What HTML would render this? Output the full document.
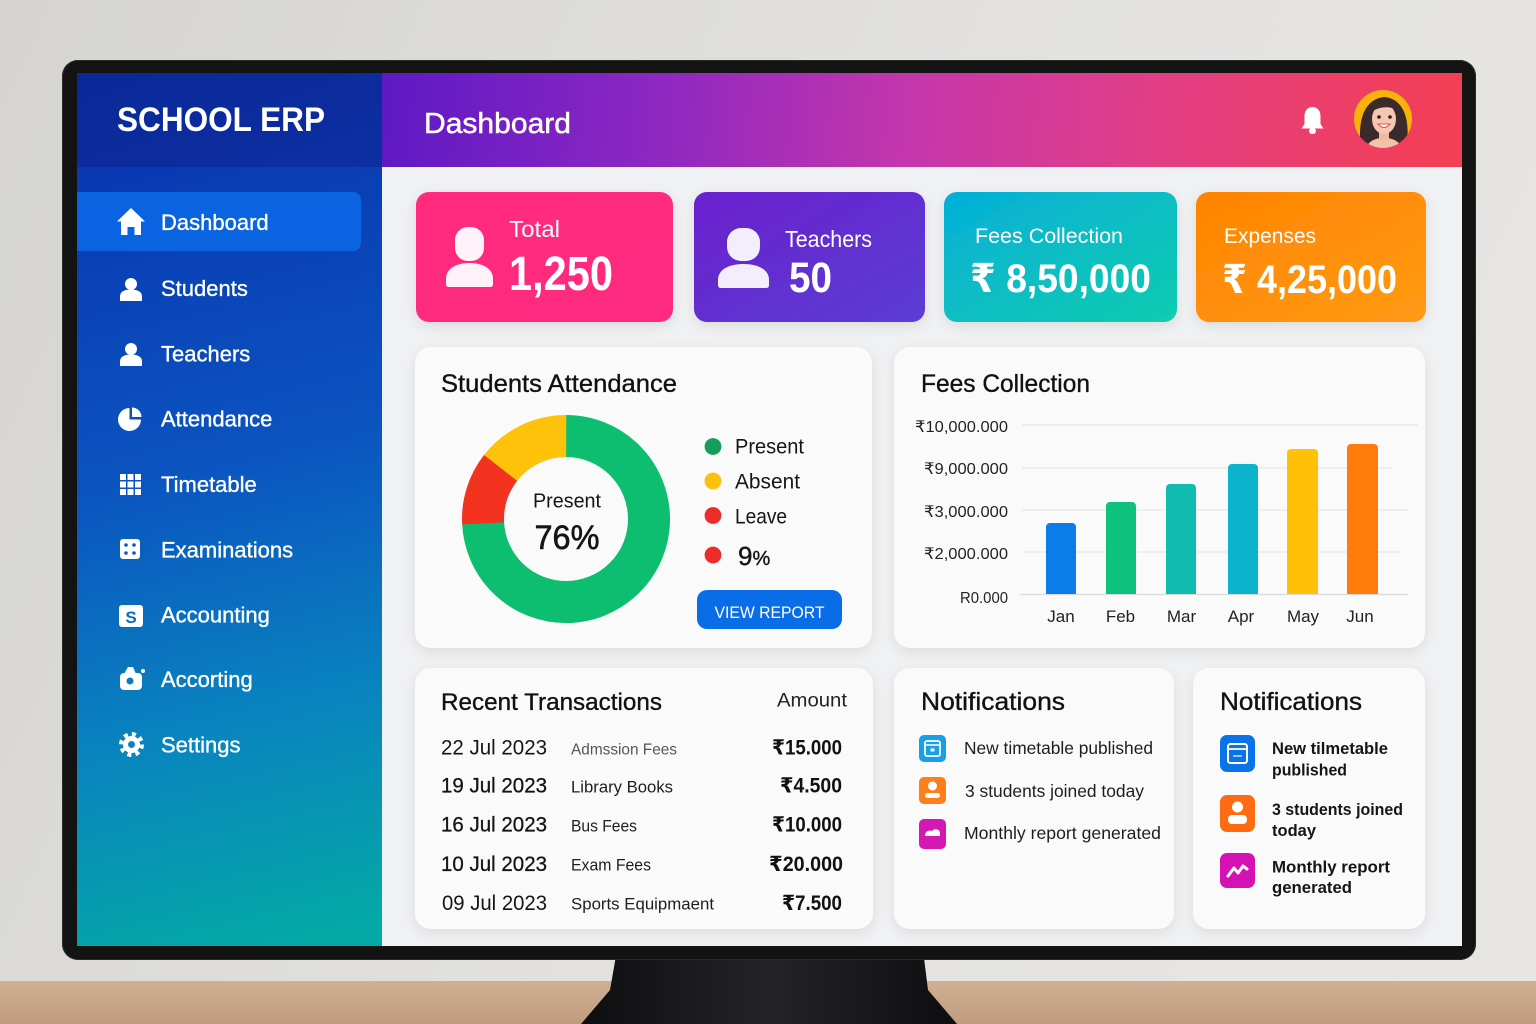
<!DOCTYPE html>
<html><head><meta charset="utf-8"><style>
html,body{margin:0;padding:0;width:1536px;height:1024px;overflow:hidden;background:#dcdbd8}
svg{display:block}
text{font-family:"Liberation Sans","DejaVu Sans",sans-serif}
</style></head><body>
<svg width="1536" height="1024" viewBox="0 0 1536 1024" xmlns="http://www.w3.org/2000/svg">
<defs>
 <linearGradient id="wall" x1="0" y1="0" x2="1" y2="0.3">
  <stop offset="0" stop-color="#d5d4d0"/><stop offset="0.6" stop-color="#e2e1de"/><stop offset="1" stop-color="#e6e5e2"/>
 </linearGradient>
 <linearGradient id="desk" x1="0" y1="0" x2="0" y2="1">
  <stop offset="0" stop-color="#d0b094"/><stop offset="1" stop-color="#c09c7e"/>
 </linearGradient>
 <linearGradient id="stand" x1="0" y1="0" x2="1" y2="0">
  <stop offset="0" stop-color="#0e0e10"/><stop offset="0.5" stop-color="#242427"/><stop offset="1" stop-color="#0e0e10"/>
 </linearGradient>
 <linearGradient id="side" gradientUnits="userSpaceOnUse" x1="77" y1="167" x2="260" y2="946">
  <stop offset="0" stop-color="#0a38b2"/><stop offset="0.4" stop-color="#0b54c0"/><stop offset="0.72" stop-color="#0984bf"/><stop offset="1" stop-color="#04a8a6"/>
 </linearGradient>
 <linearGradient id="sidehdr" x1="0" y1="0" x2="1" y2="1">
  <stop offset="0" stop-color="#0a2898"/><stop offset="1" stop-color="#0d2fa2"/>
 </linearGradient>
 <linearGradient id="hdr" gradientUnits="userSpaceOnUse" x1="382" y1="73" x2="1462" y2="167">
  <stop offset="0" stop-color="#5e19c4"/><stop offset="0.25" stop-color="#8c27c2"/><stop offset="0.5" stop-color="#c737aa"/><stop offset="0.72" stop-color="#e23e84"/><stop offset="1" stop-color="#f43e52"/>
 </linearGradient>
 <linearGradient id="c1" x1="0" y1="0" x2="1" y2="1"><stop offset="0" stop-color="#ff2a7c"/><stop offset="1" stop-color="#fe2b80"/></linearGradient>
 <linearGradient id="c2" x1="0" y1="0" x2="1" y2="1"><stop offset="0" stop-color="#6a20ce"/><stop offset="1" stop-color="#5b3dd4"/></linearGradient>
 <linearGradient id="c3" x1="0" y1="0" x2="1" y2="1"><stop offset="0" stop-color="#04afd8"/><stop offset="1" stop-color="#12ccaf"/></linearGradient>
 <linearGradient id="c4" x1="0" y1="0" x2="1" y2="1"><stop offset="0" stop-color="#ff8400"/><stop offset="1" stop-color="#ff9a14"/></linearGradient>
 <filter id="sh" x="-10%" y="-10%" width="120%" height="130%"><feDropShadow dx="0" dy="4" stdDeviation="6" flood-color="#000" flood-opacity="0.09"/></filter>
 <clipPath id="av"><circle cx="1383" cy="119" r="29"/></clipPath>
</defs>

<!-- wall / desk / stand -->
<rect x="0" y="0" width="1536" height="1024" fill="url(#wall)"/>
<rect x="0" y="981" width="1536" height="43" fill="url(#desk)"/>
<polygon points="617,950 923,950 928,990 957,1024 581,1024 610,990" fill="url(#stand)"/>

<!-- bezel -->
<rect x="62" y="60" width="1414" height="900" rx="16" fill="#131313"/>
<rect x="62.5" y="60.5" width="1413" height="899" rx="16" fill="none" stroke="#2b2b2b" stroke-width="1"/>

<!-- screen -->
<rect x="77" y="73" width="1385" height="873" fill="#f0f1f3"/>
<rect x="77" y="167" width="305" height="779" fill="url(#side)"/>
<rect x="77" y="73" width="305" height="94" fill="url(#sidehdr)"/>
<rect x="382" y="73" width="1080" height="94" fill="url(#hdr)"/>

<!-- sidebar -->
<text x="117" y="131" font-size="34" font-weight="bold" fill="#fff" textLength="208" lengthAdjust="spacingAndGlyphs">SCHOOL ERP</text>
<path d="M77,192 H352 Q361,192 361,201 V242 Q361,251 352,251 H77 Z" fill="#0a64e2"/>
<g fill="#fff">
 <polygon points="131,208 145,221.5 141,221.5 141,235 134.5,235 134.5,227 127.5,227 127.5,235 121,235 121,221.5 117,221.5"/>
 <circle cx="131" cy="284" r="6"/>
 <path d="M120,301 V296.5 C120,291.5 125,289.5 131,289.5 C137,289.5 142,291.5 142,296.5 V301 Z"/>
 <circle cx="131" cy="349" r="6"/>
 <path d="M120,366 V361.5 C120,356.5 125,354.5 131,354.5 C137,354.5 142,356.5 142,361.5 V366 Z"/>
 <path d="M129.5,419.5 L129.5,408 A11.5,11.5 0 1,0 141,419.5 Z"/>
 <path d="M132,417 L132,407.5 A9.5,9.5 0 0,1 141.5,417 Z"/>
 <rect x="120" y="474" width="6" height="6"/><rect x="127.5" y="474" width="6" height="6"/><rect x="135" y="474" width="6" height="6"/>
 <rect x="120" y="481.5" width="6" height="6"/><rect x="127.5" y="481.5" width="6" height="6"/><rect x="135" y="481.5" width="6" height="6"/>
 <rect x="120" y="489" width="6" height="6"/><rect x="127.5" y="489" width="6" height="6"/><rect x="135" y="489" width="6" height="6"/>
 <rect x="120" y="539" width="20" height="20" rx="3"/>
 <rect x="119" y="605" width="24" height="22" rx="3"/>
 <rect x="120" y="673" width="22" height="17" rx="4"/>
 <path d="M124,674 L128,667 L133,667 L136,674 Z"/>
 <circle cx="143" cy="671" r="2"/>
 <circle cx="131.5" cy="744.5" r="8.5"/>
 <circle cx="131.5" cy="744.5" r="10.5" fill="none" stroke="#fff" stroke-width="4" stroke-dasharray="4.1 4.15"/>
</g>
<g fill="#0b57c0">
 <circle cx="126" cy="545" r="1.8"/><circle cx="134" cy="545" r="1.8"/><circle cx="126" cy="553" r="1.8"/><circle cx="134" cy="553" r="1.8"/>
</g>
<text x="131" y="623" font-size="17" font-weight="bold" fill="#0a6bc0" text-anchor="middle">S</text>
<circle cx="130" cy="681" r="3.5" fill="#0a7cbf"/>
<circle cx="131.5" cy="744.5" r="3.5" fill="#0a86bd"/>
<g font-size="22" fill="#fff" stroke="#fff" stroke-width="0.35">
 <text x="161" y="230">Dashboard</text>
 <text x="161" y="296">Students</text>
 <text x="161" y="361.5">Teachers</text>
 <text x="161" y="426.5">Attendance</text>
 <text x="161" y="492">Timetable</text>
 <text x="161" y="557.5">Examinations</text>
 <text x="161" y="622.5">Accounting</text>
 <text x="161" y="687">Accorting</text>
 <text x="161" y="752.5">Settings</text>
</g>

<!-- header -->
<text x="424" y="133" font-size="29" fill="#fff" stroke="#fff" stroke-width="0.5" textLength="147" lengthAdjust="spacingAndGlyphs">Dashboard</text>
<path d="M1312.5,107 C1307.5,107 1304.5,111 1304.5,116 V124 L1301.5,128.5 H1323.5 L1320.5,124 V116 C1320.5,111 1317.5,107 1312.5,107 Z" fill="#fff"/>
<rect x="1309" y="128" width="7" height="6" rx="3" fill="#fff"/>
<circle cx="1383" cy="119" r="29" fill="#f7b30c"/>
<g clip-path="url(#av)">
 <path d="M1361,150 C1358,128 1360,100 1384,97 C1408,99 1410,128 1406,150 Z" fill="#3b2a2b"/>
 <path d="M1364,152 C1368,140 1376,138 1384,138 C1392,138 1400,140 1404,152 Z" fill="#f4c2a8"/>
 <rect x="1379" y="128" width="10" height="12" fill="#f0b99e"/>
 <ellipse cx="1384" cy="119" rx="12" ry="15" fill="#f6c7b0"/>
 <path d="M1371,112 C1374,102 1392,99 1397,110 C1390,106 1380,106 1371,112 Z" fill="#3b2a2b"/>
 <circle cx="1379" cy="117" r="1.8" fill="#2a1d1d"/><circle cx="1390" cy="117" r="1.8" fill="#2a1d1d"/>
 <path d="M1378,124 Q1384,131 1390,124 Z" fill="#fff" stroke="#d8534e" stroke-width="1"/>
</g>

<!-- stat cards -->
<rect x="416" y="192" width="257" height="130" rx="13" fill="url(#c1)" filter="url(#sh)"/>
<rect x="694" y="192" width="231" height="130" rx="13" fill="url(#c2)" filter="url(#sh)"/>
<rect x="944" y="192" width="233" height="130" rx="13" fill="url(#c3)" filter="url(#sh)"/>
<rect x="1196" y="192" width="230" height="130" rx="13" fill="url(#c4)" filter="url(#sh)"/>
<g fill="#fcf2f8">
 <rect x="455" y="227" width="29" height="34" rx="13"/>
 <path d="M446,284 V279 C446,268 457,263 469.5,263 C482,263 493,268 493,279 V284 Q493,287 490,287 H449 Q446,287 446,284 Z"/>
</g>
<g fill="#f3eefc">
 <rect x="727" y="228" width="33" height="33" rx="14"/>
 <path d="M718,285 V280 C718,269 730,264 743.5,264 C757,264 769,269 769,280 V285 Q769,288 766,288 H721 Q718,288 718,285 Z"/>
</g>
<g fill="#fff">
 <text x="509" y="237" font-size="23" textLength="51" lengthAdjust="spacingAndGlyphs">Total</text>
 <text x="509" y="290" font-size="48" font-weight="bold" textLength="104" lengthAdjust="spacingAndGlyphs">1,250</text>
 <text x="785" y="247" font-size="23" textLength="87" lengthAdjust="spacingAndGlyphs">Teachers</text>
 <text x="789" y="292" font-size="43" font-weight="bold" textLength="43" lengthAdjust="spacingAndGlyphs">50</text>
 <text x="975" y="243" font-size="21" textLength="148" lengthAdjust="spacingAndGlyphs">Fees Collection</text>
 <text x="970" y="292" font-size="40" font-weight="bold" textLength="181" lengthAdjust="spacingAndGlyphs">₹ 8,50,000</text>
 <text x="1224" y="243" font-size="21" textLength="92" lengthAdjust="spacingAndGlyphs">Expenses</text>
 <text x="1222" y="293" font-size="40" font-weight="bold" textLength="175" lengthAdjust="spacingAndGlyphs">₹ 4,25,000</text>
</g>

<!-- panels -->
<g fill="#fafafa" filter="url(#sh)">
 <rect x="415" y="347" width="457" height="301" rx="16"/>
 <rect x="894" y="347" width="531" height="301" rx="16"/>
 <rect x="415" y="668" width="458" height="261" rx="16"/>
 <rect x="894" y="668" width="280" height="261" rx="16"/>
 <rect x="1193" y="668" width="232" height="261" rx="16"/>
</g>

<!-- attendance -->
<text x="441" y="392" font-size="25" fill="#111" stroke="#111" stroke-width="0.35" textLength="236" lengthAdjust="spacingAndGlyphs">Students Attendance</text>
<g fill="none" stroke-width="42">
 <circle cx="566" cy="519" r="83" stroke="#0dbd70" stroke-dasharray="387 600" transform="rotate(-90 566 519)"/>
 <circle cx="566" cy="519" r="83" stroke="#f3321f" stroke-dasharray="59.6 600" transform="rotate(177 566 519)"/>
 <circle cx="566" cy="519" r="83" stroke="#fec20b" stroke-dasharray="75.5 600" transform="rotate(218 566 519)"/>
</g>
<text x="567" y="507.5" font-size="20" fill="#151515" text-anchor="middle" textLength="68" lengthAdjust="spacingAndGlyphs">Present</text>
<text x="567" y="549" font-size="34" fill="#151515" stroke="#151515" stroke-width="0.6" text-anchor="middle" textLength="65" lengthAdjust="spacingAndGlyphs">76%</text>
<circle cx="713" cy="446.5" r="8.4" fill="#169d5c"/>
<circle cx="713" cy="481" r="8.4" fill="#fdc00e"/>
<circle cx="713" cy="515.5" r="8.4" fill="#ee2a2a"/>
<circle cx="713" cy="555" r="8.4" fill="#ee2a2a"/>
<g font-size="21" fill="#151515">
 <text x="735" y="453.5" textLength="69" lengthAdjust="spacingAndGlyphs">Present</text>
 <text x="735" y="488.5" textLength="65" lengthAdjust="spacingAndGlyphs">Absent</text>
 <text x="735" y="523.5" textLength="52" lengthAdjust="spacingAndGlyphs">Leave</text>
</g>
<text x="738" y="565" font-size="26" fill="#151515" stroke="#151515" stroke-width="0.4">9<tspan font-size="20">%</tspan></text>
<rect x="697" y="590" width="145" height="39" rx="10" fill="#0a6de8"/>
<text x="769.5" y="618" font-size="16.5" fill="#fff" text-anchor="middle" textLength="110" lengthAdjust="spacingAndGlyphs">VIEW REPORT</text>

<!-- fees chart -->
<text x="921" y="392" font-size="25" fill="#111" stroke="#111" stroke-width="0.35" textLength="169" lengthAdjust="spacingAndGlyphs">Fees Collection</text>
<g stroke="#e6e6e8" stroke-width="1.2">
 <line x1="1022" y1="425" x2="1418" y2="425"/>
 <line x1="1022" y1="468" x2="1392" y2="468"/>
 <line x1="1022" y1="510" x2="1408" y2="510"/>
 <line x1="1022" y1="552" x2="1400" y2="552"/>
 <line x1="1020" y1="594.5" x2="1408" y2="594.5" stroke="#dadada"/>
</g>
<g font-size="16" fill="#222" text-anchor="end">
 <text x="1008" y="432" textLength="93" lengthAdjust="spacingAndGlyphs">₹10,000.000</text>
 <text x="1008" y="474" textLength="84" lengthAdjust="spacingAndGlyphs">₹9,000.000</text>
 <text x="1008" y="517" textLength="84" lengthAdjust="spacingAndGlyphs">₹3,000.000</text>
 <text x="1008" y="559" textLength="84" lengthAdjust="spacingAndGlyphs">₹2,000.000</text>
 <text x="1008" y="603" textLength="48" lengthAdjust="spacingAndGlyphs">R0.000</text>
</g>
<g>
 <rect x="1046" y="523" width="30" height="71" rx="4" fill="#0b7de9"/><rect x="1046" y="585" width="30" height="9" fill="#0b7de9"/>
 <rect x="1106" y="502" width="30" height="92" rx="4" fill="#0cc27c"/><rect x="1106" y="585" width="30" height="9" fill="#0cc27c"/>
 <rect x="1166" y="484" width="30" height="110" rx="4" fill="#10bcb0"/><rect x="1166" y="585" width="30" height="9" fill="#10bcb0"/>
 <rect x="1228" y="464" width="30" height="130" rx="4" fill="#0bb4cc"/><rect x="1228" y="585" width="30" height="9" fill="#0bb4cc"/>
 <rect x="1287" y="449" width="31" height="145" rx="4" fill="#ffc107"/><rect x="1287" y="585" width="31" height="9" fill="#ffc107"/>
 <rect x="1347" y="444" width="31" height="150" rx="4" fill="#ff7b0a"/><rect x="1347" y="585" width="31" height="9" fill="#ff7b0a"/>
</g>
<g font-size="17" fill="#222" text-anchor="middle">
 <text x="1061" y="622">Jan</text>
 <text x="1120.5" y="622">Feb</text>
 <text x="1181.5" y="622">Mar</text>
 <text x="1241" y="622">Apr</text>
 <text x="1303" y="622">May</text>
 <text x="1360" y="622">Jun</text>
</g>

<!-- transactions -->
<text x="441" y="710" font-size="24" fill="#111" stroke="#111" stroke-width="0.35" textLength="221" lengthAdjust="spacingAndGlyphs">Recent Transactions</text>
<text x="777" y="706.5" font-size="19" fill="#222" textLength="70" lengthAdjust="spacingAndGlyphs">Amount</text>
<g font-size="21" fill="#151515">
 <text x="441" y="754.5" textLength="106" lengthAdjust="spacingAndGlyphs">22 Jul  2023</text>
 <text x="441" y="792.5" textLength="106" lengthAdjust="spacingAndGlyphs" stroke="#151515" stroke-width="0.3">19 Jul  2023</text>
 <text x="441" y="831.5" textLength="106" lengthAdjust="spacingAndGlyphs" stroke="#151515" stroke-width="0.3">16 Jul  2023</text>
 <text x="441" y="871" textLength="106" lengthAdjust="spacingAndGlyphs" stroke="#151515" stroke-width="0.3">10 Jul  2023</text>
 <text x="442" y="910" textLength="105" lengthAdjust="spacingAndGlyphs">09 Jul  2023</text>
</g>
<g font-size="17" fill="#1e1e1e">
 <text x="571" y="754.5" fill="#555" font-size="16" textLength="106" lengthAdjust="spacingAndGlyphs">Admssion Fees</text>
 <text x="571" y="792.5" textLength="102" lengthAdjust="spacingAndGlyphs">Library Books</text>
 <text x="571" y="831.5" textLength="66" lengthAdjust="spacingAndGlyphs">Bus Fees</text>
 <text x="571" y="870.5" textLength="80" lengthAdjust="spacingAndGlyphs">Exam Fees</text>
 <text x="571" y="909.5" textLength="143" lengthAdjust="spacingAndGlyphs">Sports Equipmaent</text>
</g>
<g font-size="21" font-weight="bold" fill="#111" text-anchor="end">
 <text x="842" y="754.5" textLength="70" lengthAdjust="spacingAndGlyphs">₹15.000</text>
 <text x="842" y="792.5" textLength="62" lengthAdjust="spacingAndGlyphs">₹4.500</text>
 <text x="842" y="831.5" textLength="70" lengthAdjust="spacingAndGlyphs">₹10.000</text>
 <text x="843" y="871" textLength="74" lengthAdjust="spacingAndGlyphs">₹20.000</text>
 <text x="842" y="910" textLength="60" lengthAdjust="spacingAndGlyphs">₹7.500</text>
</g>

<!-- notifications 1 -->
<text x="921" y="710" font-size="25" fill="#111" stroke="#111" stroke-width="0.35" textLength="144" lengthAdjust="spacingAndGlyphs">Notifications</text>
<rect x="919" y="735" width="27" height="27" rx="5" fill="#199ee8"/>
<rect x="925" y="741" width="15" height="15" rx="2" fill="none" stroke="#fff" stroke-width="1.8"/>
<line x1="925" y1="745" x2="940" y2="745" stroke="#fff" stroke-width="1.5"/>
<rect x="930.5" y="748.5" width="4" height="3" fill="#fff"/>
<rect x="919" y="777" width="27" height="27" rx="5" fill="#ff7e1c"/>
<circle cx="932.5" cy="786" r="4.5" fill="#fff"/>
<rect x="925" y="793" width="15" height="5" rx="2.5" fill="#fff"/>
<rect x="919" y="819" width="27" height="30" rx="5" fill="#d517b3"/>
<path d="M925,836 C925,831 929,830 932,831 C934,828 940,829 940,833 L940,836 Z" fill="#fff"/>
<g font-size="17.5" fill="#1e1e1e">
 <text x="964" y="754" textLength="189" lengthAdjust="spacingAndGlyphs">New timetable published</text>
 <text x="965" y="797" textLength="179" lengthAdjust="spacingAndGlyphs">3 students joined  today</text>
 <text x="964" y="839" textLength="197" lengthAdjust="spacingAndGlyphs">Monthly report generated</text>
</g>

<!-- notifications 2 -->
<text x="1220" y="710" font-size="25" fill="#111" stroke="#111" stroke-width="0.35" textLength="142" lengthAdjust="spacingAndGlyphs">Notifications</text>
<rect x="1220" y="735" width="35" height="37" rx="7" fill="#0a73ea"/>
<rect x="1228" y="744" width="19" height="19" rx="2.5" fill="none" stroke="#fff" stroke-width="2"/>
<line x1="1228" y1="749" x2="1247" y2="749" stroke="#fff" stroke-width="1.8"/>
<rect x="1233" y="755" width="9" height="2" fill="#9cc4f7"/>
<rect x="1220" y="795" width="35" height="37" rx="7" fill="#ff6b12"/>
<circle cx="1237.5" cy="807" r="5.5" fill="#fff"/>
<rect x="1228" y="815" width="19" height="9" rx="4" fill="#fff"/>
<rect x="1220" y="853" width="35" height="35" rx="7" fill="#d511b5"/>
<path d="M1228,876 L1234,868 L1238,873 L1243,866 L1247,869" fill="none" stroke="#fff" stroke-width="3" stroke-linecap="round" stroke-linejoin="round"/>
<g font-size="17" font-weight="bold" fill="#151515">
 <text x="1272" y="754" textLength="116" lengthAdjust="spacingAndGlyphs">New tilmetable</text>
 <text x="1272" y="775.5" textLength="75" lengthAdjust="spacingAndGlyphs">published</text>
 <text x="1272" y="815" textLength="131" lengthAdjust="spacingAndGlyphs">3 students joined</text>
 <text x="1272" y="836" textLength="44" lengthAdjust="spacingAndGlyphs">today</text>
 <text x="1272" y="872.5" textLength="118" lengthAdjust="spacingAndGlyphs">Monthly report</text>
 <text x="1272" y="893" textLength="80" lengthAdjust="spacingAndGlyphs">generated</text>
</g>
</svg>
</body></html>
